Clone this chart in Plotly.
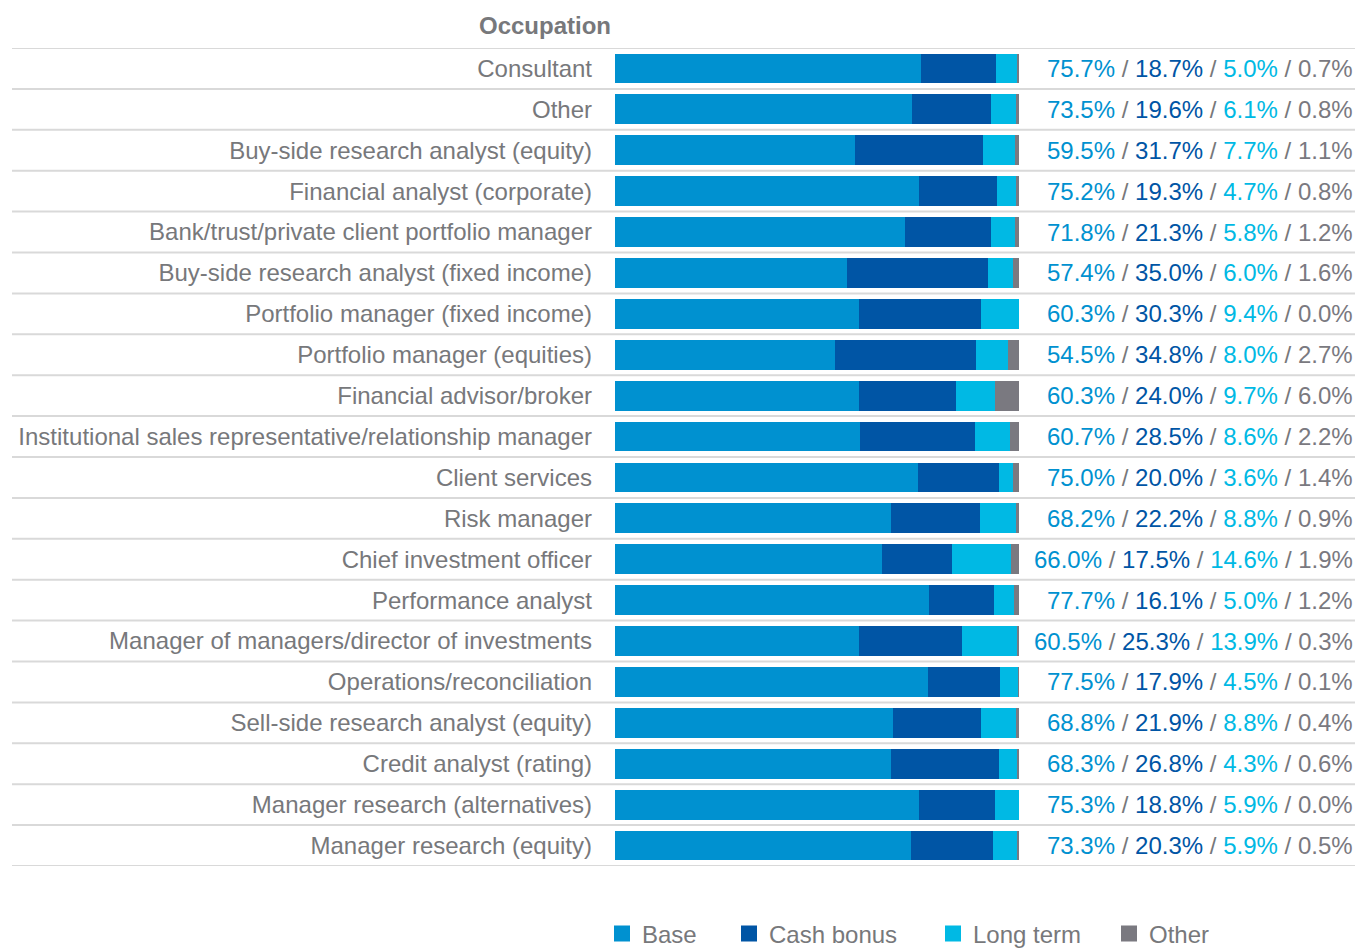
import plotly.graph_objects as go

categories = [
    "Consultant", "Other", "Buy-side research analyst (equity)",
    "Financial analyst (corporate)", "Bank/trust/private client portfolio manager",
    "Buy-side research analyst (fixed income)", "Portfolio manager (fixed income)",
    "Portfolio manager (equities)", "Financial advisor/broker",
    "Institutional sales representative/relationship manager", "Client services",
    "Risk manager", "Chief investment officer", "Performance analyst",
    "Manager of managers/director of investments", "Operations/reconciliation",
    "Sell-side research analyst (equity)", "Credit analyst (rating)",
    "Manager research (alternatives)", "Manager research (equity)",
]
base = [75.7, 73.5, 59.5, 75.2, 71.8, 57.4, 60.3, 54.5, 60.3, 60.7,
        75.0, 68.2, 66.0, 77.7, 60.5, 77.5, 68.8, 68.3, 75.3, 73.3]
cash_bonus = [18.7, 19.6, 31.7, 19.3, 21.3, 35.0, 30.3, 34.8, 24.0, 28.5,
              20.0, 22.2, 17.5, 16.1, 25.3, 17.9, 21.9, 26.8, 18.8, 20.3]
long_term = [5.0, 6.1, 7.7, 4.7, 5.8, 6.0, 9.4, 8.0, 9.7, 8.6,
             3.6, 8.8, 14.6, 5.0, 13.9, 4.5, 8.8, 4.3, 5.9, 5.9]
other = [0.7, 0.8, 1.1, 0.8, 1.2, 1.6, 0.0, 2.7, 6.0, 2.2,
         1.4, 0.9, 1.9, 1.2, 0.3, 0.1, 0.4, 0.6, 0.0, 0.5]
series_names = ["Base", "Cash bonus", "Long term", "Other"]
colors = ["#0091D0", "#0055A5", "#00B9E4", "#7A7980"]

W, H = 1357, 948
plot_left, plot_right = 615, 1019
plot_top, plot_bottom = 48, 866
FONT = "Liberation Sans, Arial, sans-serif"
GRAY = "#77787B"
FS = 24

fig = go.Figure()
all_series = [base, cash_bonus, long_term, other]
for name, vals, col in zip(series_names, all_series, colors):
    fig.add_trace(go.Bar(
        y=categories, x=vals, name=name, orientation="h",
        marker=dict(color=col, line=dict(width=0)),
        showlegend=False, hoverinfo="x+y+name",
    ))

# legend entries (one legend per entry so each can be placed like the original)
legend_ids = ["legend", "legend2", "legend3", "legend4"]
legend_centers = [623, 750, 954, 1130]
for name, col, lid in zip(series_names, colors, legend_ids):
    fig.add_trace(go.Scatter(
        x=[None], y=[None], mode="markers", name=name, legend=lid,
        marker=dict(symbol="square", size=20, color=col), showlegend=True,
    ))

# value labels
annotations = []
for i, cat in enumerate(categories):
    parts = [f"<span style='color:{col}'>{vals[i]:.1f}%</span>"
             for vals, col in zip(all_series, colors)]
    sep = f"<span style='color:{GRAY}'> / </span>"
    annotations.append(dict(
        x=1355 / W, xref="paper", y=cat, yref="y", text=sep.join(parts),
        showarrow=False, xanchor="right", yanchor="middle",
        font=dict(size=FS, family=FONT),
    ))

annotations.append(dict(
    x=613 / W, xref="paper", y=1 + (plot_top - 26) / (plot_bottom - plot_top),
    yref="paper", text="<b>Occupation</b>", showarrow=False,
    xanchor="right", yanchor="middle",
    font=dict(size=FS, family=FONT, color=GRAY),
))

# separator lines
shapes = []
n = len(categories)
for k in range(n + 1):
    shapes.append(dict(
        type="line", xref="paper", yref="y", x0=12 / W, x1=1355 / W,
        y0=k - 0.5, y1=k - 0.5, line=dict(color="#D9D9D9", width=2), layer="below",
    ))

layout_legends = {}
for lid, c in zip(legend_ids, legend_centers):
    layout_legends[lid] = dict(
        orientation="h", x=(c - 21) / W, xanchor="left",
        yref="container", y=(H - 934) / H, yanchor="middle",
        font=dict(size=FS, family=FONT, color=GRAY), itemsizing="trace",
        bgcolor="rgba(0,0,0,0)",
    )

fig.update_layout(
    width=W, height=H, barmode="stack", bargap=0.27,
    plot_bgcolor="white", paper_bgcolor="white",
    margin=dict(l=0, r=0, t=plot_top, b=H - plot_bottom),
    font=dict(family=FONT, size=FS, color=GRAY),
    xaxis=dict(domain=[plot_left / W, plot_right / W], range=[0, 100],
               showgrid=False, showticklabels=False, zeroline=False, showline=False,
               fixedrange=True),
    yaxis=dict(categoryorder="array", categoryarray=categories,
               range=[n - 0.5, -0.5], showgrid=False, zeroline=False, showline=False,
               ticks="", ticklabelstandoff=22, automargin=False,
               tickfont=dict(size=FS, family=FONT, color=GRAY)),
    annotations=annotations, shapes=shapes, showlegend=True,
    **layout_legends,
)

fig.write_html("out.html", config={"displayModeBar": False},
               post_script="document.body.style.margin='0';")
